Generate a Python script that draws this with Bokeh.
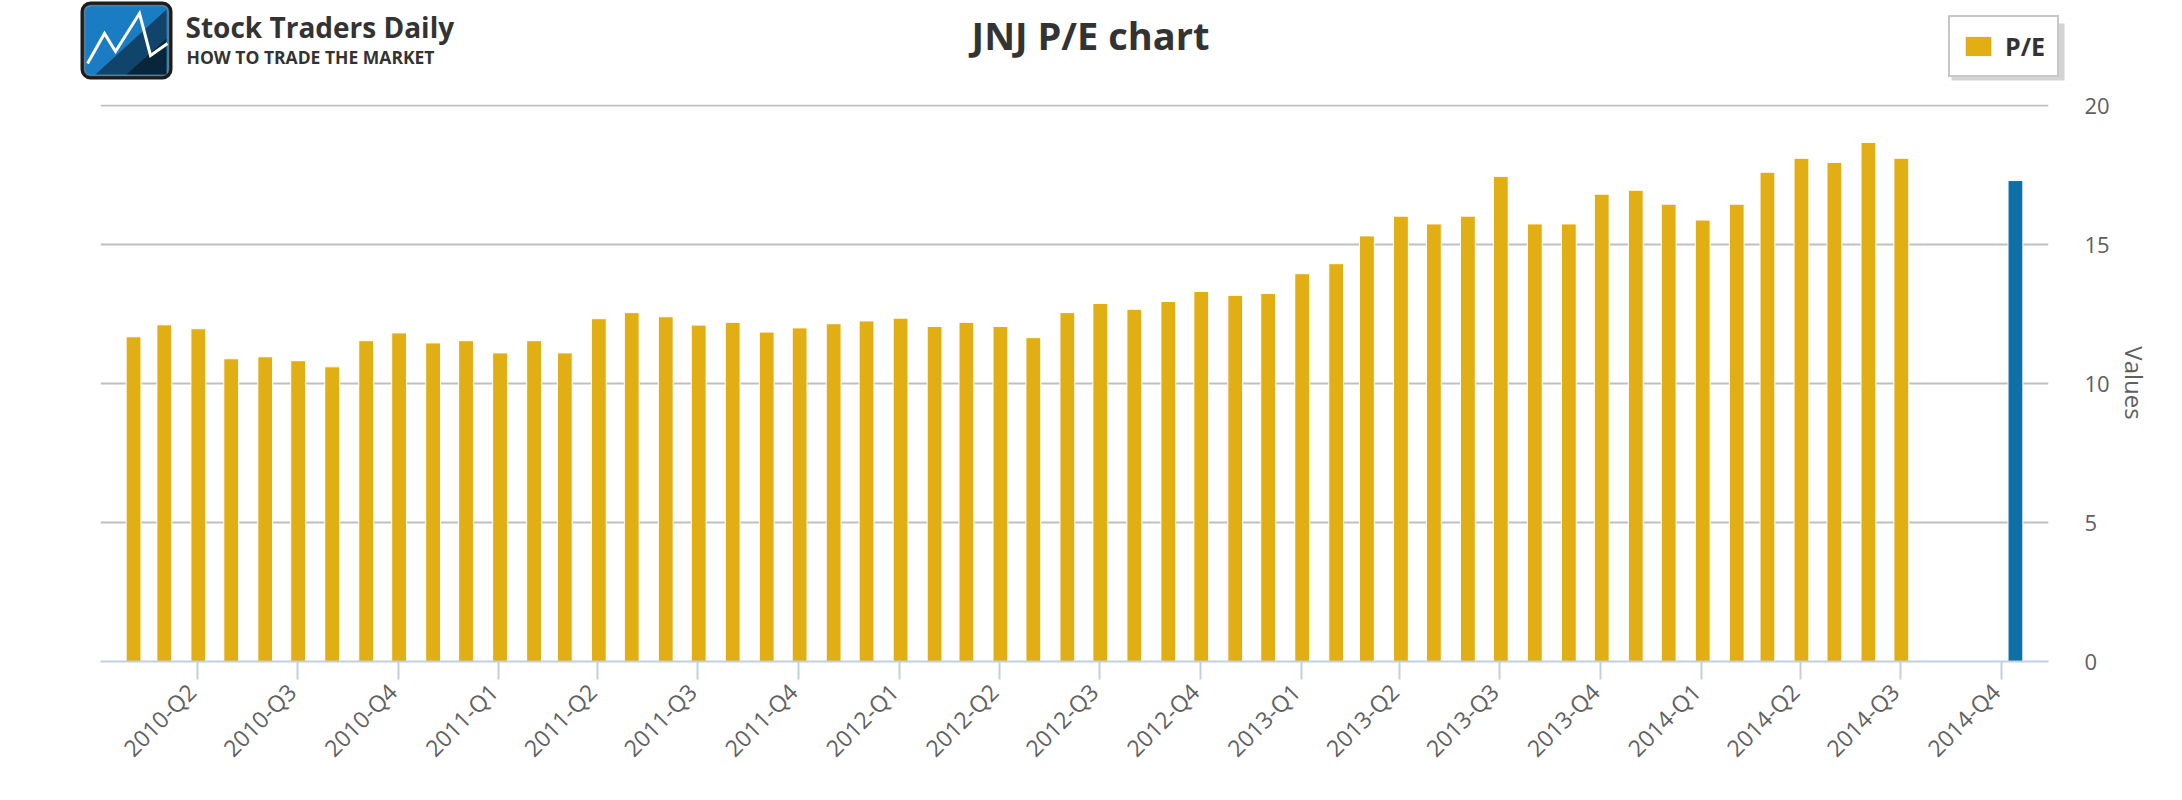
import math
import pandas as pd
from bokeh.plotting import figure
from bokeh.models import (Range1d, FixedTicker, Legend, LegendItem, BoxAnnotation,
                          DatetimeAxis)
from bokeh.core.properties import value
from bokeh.embed import file_html
from bokeh.resources import INLINE

# ---------------- data ----------------
first_month = "2010-02-02"
pe_values = [11.68, 12.11, 11.97, 10.89, 10.96, 10.82, 10.60, 11.54, 11.82, 11.46,
             11.54, 11.10, 11.54, 11.10, 12.33, 12.55, 12.40, 12.10, 12.20, 11.85,
             12.00, 12.15, 12.25, 12.35, 12.05, 12.20, 12.05, 11.65, 12.55, 12.88,
             12.67, 12.95, 13.31, 13.17, 13.24, 13.95, 14.31, 15.31, 16.02, 15.74,
             16.02, 17.45, 15.74, 15.74, 16.81, 16.95, 16.45, 15.88, 16.45, 17.60,
             18.10, 17.95, 18.67, 18.10]
current_date = ["2014-10-14"]
current_pe = [17.3]
quarter_labels = ["2010-Q2", "2010-Q3", "2010-Q4", "2011-Q1", "2011-Q2", "2011-Q3",
                  "2011-Q4", "2012-Q1", "2012-Q2", "2012-Q3", "2012-Q4", "2013-Q1",
                  "2013-Q2", "2013-Q3", "2013-Q4", "2014-Q1", "2014-Q2", "2014-Q3",
                  "2014-Q4"]
y_ticks = [0, 5, 10, 15, 20]
series_name = "P/E"
chart_title = "JNJ P/E chart"
axis_title = "Values"
brand = "Stock Traders Daily"
slogan = "HOW TO TRADE THE MARKET"

# ---------------- helpers ----------------
def ms(ts):
    return int(pd.Timestamp(ts).value // 10**6)

DAY = 86400000
bar_dates = pd.date_range(first_month, periods=len(pe_values), freq=pd.DateOffset(months=1))
bar_x = [ms(d) for d in bar_dates]
cur_x = [ms(d) for d in current_date]

def q_start(lbl):
    y, q = lbl.split("-Q")
    return ms(pd.Timestamp(year=int(y), month=3 * (int(q) - 1) + 1, day=1))

tick_x = [q_start(l) for l in quarter_labels]
label_shift = 5 * DAY            # rotated labels end right at their tick
label_x = [t - label_shift for t in tick_x]

FONT = "Open Sans"
YELLOW = "#e1ae14"
BLUE = "#0d71a8"
W = 2182
HEAD_H = 82
MAIN_H = 800 - HEAD_H
TOP_PAD = 22                      # space above the plot frame (room for the "20" label)
FRAME_H = 557

# ---------------- header (logo, title, legend) ----------------
hp = figure(width=W, height=HEAD_H, x_range=Range1d(0, W), y_range=Range1d(HEAD_H, 0),
            output_backend="svg", toolbar_location=None, title=None,
            x_axis_location=None, y_axis_location=None, min_border=0)
hp.grid.visible = False
hp.outline_line_color = None
hp.background_fill_color = "white"
hp.border_fill_color = "white"

# logo mark
hp.add_layout(BoxAnnotation(left=80, right=172, top=1, bottom=79, fill_alpha=1,
                            fill_color="#1c1c1c", line_color=None, border_radius=10,
                            level="underlay"))
hp.add_layout(BoxAnnotation(left=84, right=168, top=5, bottom=75, fill_alpha=1,
                            fill_color="#1a7cc2", line_color="#e8e8e8", line_width=1.5,
                            border_radius=6, level="underlay"))
hp.patch(x=[166, 166, 95], y=[9, 74, 74], fill_color="#0a1622", fill_alpha=0.55,
         line_color=None)
hp.patch(x=[166, 166, 126], y=[38, 74, 74], fill_color="#000000", fill_alpha=0.45,
         line_color=None)
hp.line(x=[87, 104, 115, 139, 150, 167], y=[63, 33, 51, 13, 55, 43],
        line_color="white", line_width=3, line_join="miter")
hp.text(x=[185], y=[26], text=[brand], text_font=value(FONT), text_font_size="28px",
        text_font_style="bold", text_color="#333333", text_baseline="alphabetic")
hp.text(x=[186], y=[56], text=[slogan], text_font=value(FONT), text_font_size="17.5px",
        text_font_style="bold", text_color="#333333", text_baseline="alphabetic")

# chart title
hp.text(x=[1090], y=[34], text=[chart_title], text_font=value(FONT),
        text_font_size="38px", text_font_style="bold", text_color="#333333",
        text_align="center", text_baseline="alphabetic")

# legend (shadow + box); the swatch renderer is an empty, zero-height bar
hp.add_layout(BoxAnnotation(left=1951, right=2064, top=23, bottom=80,
                            fill_color="#aaaaaa", fill_alpha=0.5, line_color=None))
swatch = hp.vbar(x=[-1000], top=[0], bottom=[0], width=1, fill_color=YELLOW,
                 line_color=None)
legend = Legend(items=[LegendItem(label=series_name, renderers=[swatch])],
                location=(1948, HEAD_H - 77))
legend.border_line_color = "#909090"
legend.border_line_width = 2
legend.background_fill_color = "white"
legend.background_fill_alpha = 1
legend.label_text_font = FONT
legend.label_text_font_size = "25px"
legend.label_text_font_style = "bold"
legend.label_text_color = "#333333"
legend.glyph_width = 32
legend.glyph_height = 24
legend.label_standoff = 11
legend.padding = 12
legend.margin = 0
hp.add_layout(legend)

# ---------------- main chart ----------------
x_start = ms("2010-01-02 21:00")
x_end = ms("2014-11-13 03:00")

p = figure(width=W, height=MAIN_H, x_axis_type="datetime", y_axis_location="right",
           x_axis_location=None,
           x_range=Range1d(x_start, x_end), y_range=Range1d(0, 20.036),
           output_backend="svg", toolbar_location=None, title=None,
           min_border_left=100, min_border_right=134, min_border_top=TOP_PAD,
           min_border_bottom=MAIN_H - TOP_PAD - FRAME_H)
p.outline_line_color = None
p.background_fill_color = "white"
p.border_fill_color = "white"

bars = p.vbar(x=bar_x, top=pe_values, bottom=0, width=13.5 * DAY,
              fill_color=YELLOW, line_color="white", line_width=1)
cur = p.vbar(x=cur_x, top=current_pe, bottom=0, width=13.5 * DAY,
             fill_color=BLUE, line_color="white", line_width=1)

# x axis: line + tick marks
tick_axis = DatetimeAxis(ticker=FixedTicker(ticks=tick_x),
                         major_label_overrides={t: "" for t in tick_x})
tick_axis.axis_line_color = "#C0D0E0"
tick_axis.axis_line_width = 2
tick_axis.major_tick_line_color = "#C0D0E0"
tick_axis.major_tick_line_width = 2
tick_axis.major_tick_out = 18
tick_axis.major_tick_in = 0
tick_axis.minor_tick_line_color = None
tick_axis.major_label_text_font_size = "1px"
tick_axis.major_label_standoff = 0
p.add_layout(tick_axis, "below")

# x axis: quarter labels
label_axis = DatetimeAxis(ticker=FixedTicker(ticks=label_x),
                          major_label_overrides={t: l for t, l in zip(label_x, quarter_labels)})
label_axis.axis_line_color = None
label_axis.major_tick_line_color = None
label_axis.minor_tick_line_color = None
label_axis.major_tick_out = 0
label_axis.major_tick_in = 0
label_axis.major_label_orientation = math.pi / 4
label_axis.major_label_text_font = FONT
label_axis.major_label_text_font_size = "23px"
label_axis.major_label_text_color = "#606060"
label_axis.major_label_standoff = 8
p.add_layout(label_axis, "below")
p.xgrid.grid_line_color = None

# y axis
ya = p.yaxis[0]
ya.ticker = FixedTicker(ticks=y_ticks)
ya.axis_line_color = None
ya.major_tick_line_color = None
ya.minor_tick_line_color = None
ya.major_label_standoff = 30
ya.major_label_text_font = FONT
ya.major_label_text_font_size = "22px"
ya.major_label_text_color = "#606060"
ya.axis_label = axis_title
ya.axis_label_text_font = FONT
ya.axis_label_text_font_size = "24px"
ya.axis_label_text_font_style = "normal"
ya.axis_label_text_color = "#606060"
ya.axis_label_standoff = 5
p.ygrid.ticker = FixedTicker(ticks=y_ticks)
p.ygrid.grid_line_color = "#C0C0C0"
p.ygrid.grid_line_width = 2

open("out.html", "w").write(file_html([hp, p], INLINE))
